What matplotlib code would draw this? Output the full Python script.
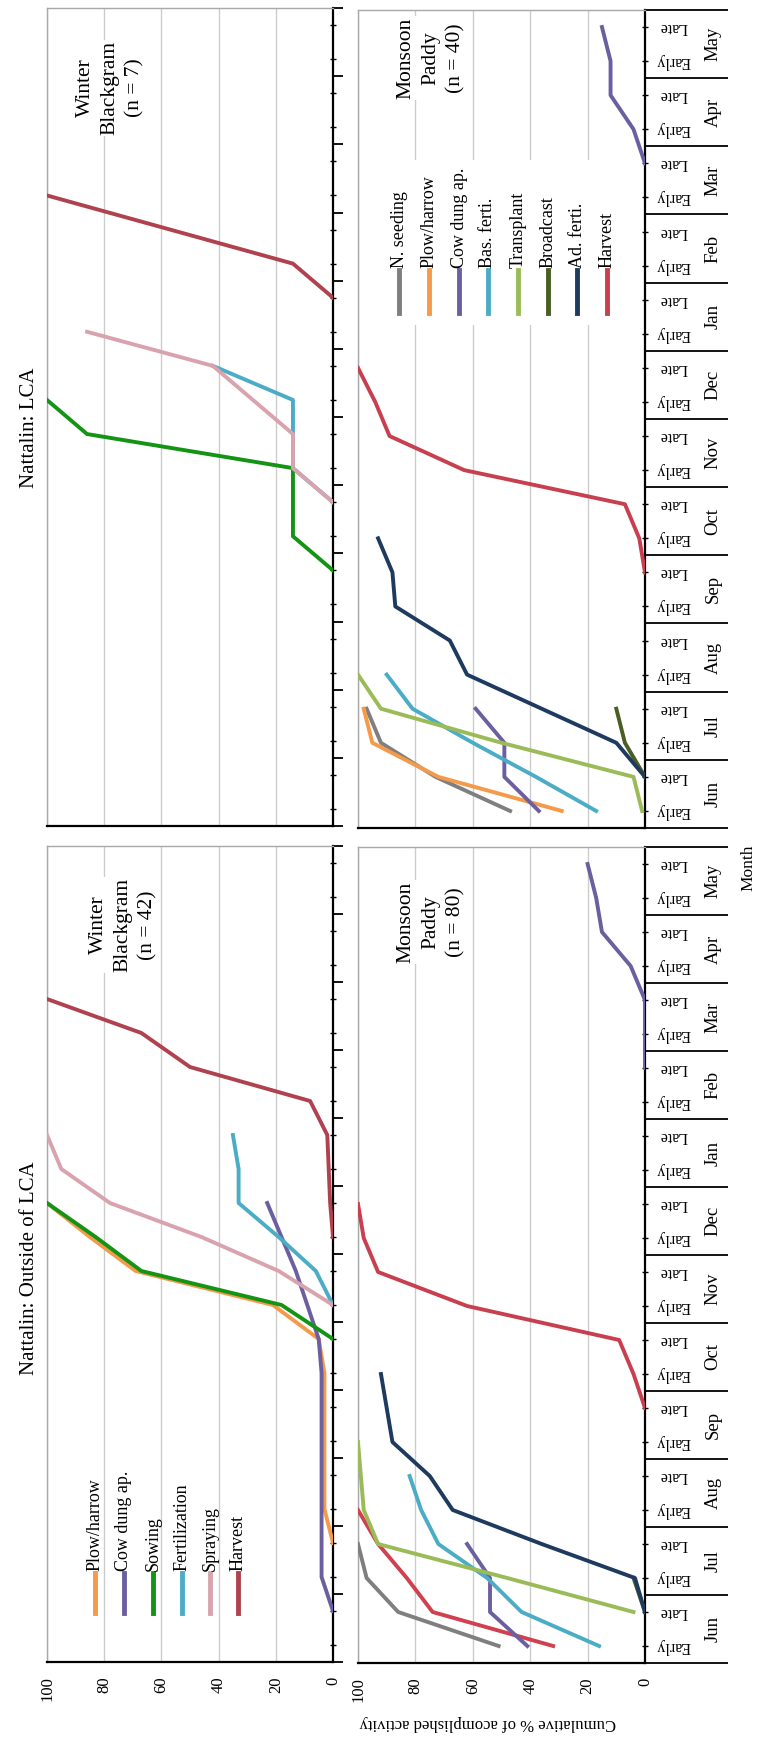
import numpy as np
import matplotlib.pyplot as plt
from matplotlib import transforms
from matplotlib.lines import Line2D
from matplotlib.patches import Rectangle

plt.rcParams['font.family'] = ['Liberation Serif', 'DejaVu Serif']

nan = np.nan

# categories (half-months, Jun -> May)
months = ['Jun', 'Jul', 'Aug', 'Sep', 'Oct', 'Nov', 'Dec', 'Jan', 'Feb', 'Mar', 'Apr', 'May']
halves = ['Early', 'Late']
value_ticks = [0, 20, 40, 60, 80, 100]

# ---- Nattalin: Outside of LCA, Winter Blackgram (n = 42) ----
# (first half-month index, cumulative %)
ob_plow_start, ob_plow = 3, [0, 3, 3, 3, 3, 3, 5, 21, 69, 85, 100]
ob_cow_start, ob_cow = 1, [0, 4, 4, 4, 4, 4, 4, 4, 5, 9, 13, 18, 23]
ob_sow_start, ob_sow = 9, [0, 18, 67, 83, 100]
ob_fert_start, ob_fert = 10, [0, 6, 19, 33, 33, 35]
ob_spray_start, ob_spray = 10, [0, 19, 46, 78, 95, 100]
ob_harv_start, ob_harv = 12, [0, 1, 1.5, 2, 8, 50, 67, 100]

# ---- Nattalin: LCA, Winter Blackgram (n = 7) ----
lb_sow_start, lb_sow = 7, [0, 14, 14, 14, 86, 100]
lb_fert_start, lb_fert = 9, [0, 14, 14, 14, 42]
lb_spray_start, lb_spray = 9, [0, 14, 14, 28, 42, 86]
lb_harv_start, lb_harv = 15, [0, 14, 57, 100]

# ---- Nattalin: Outside of LCA, Monsoon Paddy (n = 80) ----
om_seed_start, om_seed = 0, [51, 86, 97, 100]
om_plow_start, om_plow = 0, [32, 74, 83, 93, 100]
om_cow_start, om_cow = 0, [41, 54, 54, 62, nan, nan, nan, nan, nan, nan, nan, nan, nan,
                           nan, nan, nan, nan, 0, 0, 0, 5, 15, 17, 20]
om_basf_start, om_basf = 0, [16, 43, 55, 72, 78, 82]
om_trans_start, om_trans = 1, [4, 48, 93, 98, 99, 100]
om_broad_start, om_broad = 1, [0, 4]
om_adf_start, om_adf = 1, [0, 3.5, 36, 67, 75, 88, 90, 92]
om_harv_start, om_harv = 7, [0, 4, 9, 62, 93, 98, 100]

# ---- Nattalin: LCA, Monsoon Paddy (n = 40) ----
lm_seed_start, lm_seed = 0, [47, 73, 92, 97]
lm_plow_start, lm_plow = 0, [29, 72, 95, 98]
lm_cow_start, lm_cow = 0, [37, 49, 49, 59, nan, nan, nan, nan, nan, nan, nan, nan, nan,
                           nan, nan, nan, nan, nan, nan, 0, 4, 12, 12, 15]
lm_basf_start, lm_basf = 0, [17, 38, 60, 81, 90]
lm_trans_start, lm_trans = 0, [1, 4, 50, 92, 100]
lm_broad_start, lm_broad = 1, [0, 7, 10]
lm_adf_start, lm_adf = 1, [0, 10, 36, 62, 68, 87, 88, 93]
lm_harv_start, lm_harv = 7, [0, 2, 7, 63, 89, 94, 100]

# colours
c_gray = '#7f7f7f'
c_orange = '#f5994a'
c_purple = '#6c5fa0'
c_green = '#149414'
c_cyan = '#4bacc6'
c_pink = '#d9a3ad'
c_harv_bg = '#b0424f'
c_lgreen = '#9bbb59'
c_dgreen = '#4a5e24'
c_navy = '#1f3a5f'
c_red = '#c8404f'
c_plow_om = '#d0404f'

W, H = 758, 1737
fig = plt.figure(figsize=(W / 100, H / 100), dpi=100)


def fx(px):
    return px / W


def fy(py):
    return 1 - py / H


def make_axes(x0, x1, y0, y1):
    return fig.add_axes([fx(x0), fy(y1), (x1 - x0) / W, (y1 - y0) / H])


def style(ax, right_col, bottom_row):
    ax.set_xlim(100, 0)
    ax.set_ylim(-0.5, 23.5)
    ax.set_xticks(value_ticks)
    ax.grid(axis='x', color='#cccccc', lw=1)
    ax.set_axisbelow(True)
    for s in ['top', 'left']:
        ax.spines[s].set_color('#a8a8a8')
        ax.spines[s].set_linewidth(1)
    for s in ['right', 'bottom']:
        ax.spines[s].set_color('black')
        ax.spines[s].set_linewidth(1.6)
    ax.tick_params(axis='x', length=0, pad=10.5, labelsize=12, labelrotation=90,
                   labelbottom=bottom_row)
    ax.yaxis.tick_right()
    ax.set_yticks(np.arange(-0.5, 24, 2))
    ax.set_yticks(np.arange(24), minor=True)
    ax.tick_params(axis='y', which='major', direction='out', width=1.3,
                   length=60 if right_col else 7, labelright=False, labelleft=False)
    ax.tick_params(axis='y', which='minor', direction='inout', length=5, width=1)
    if right_col:
        blend = transforms.blended_transform_factory(ax.transAxes, ax.transData)
        for i in range(24):
            ax.text(1.098, i, halves[i % 2], rotation=180, ha='center', va='center',
                    fontsize=11.5, transform=blend)
        for m, name in enumerate(months):
            ax.text(1.237, 2 * m + 0.5, name, rotation=90, ha='center', va='center',
                    fontsize=13.5, transform=blend)


def draw(ax, start, vals, color, lw=2.8):
    v = np.array(vals, dtype=float)
    idx = np.arange(start, start + len(v))
    ax.plot(v, idx, color=color, lw=lw, solid_joinstyle='round', zorder=3)


def panel_label(ax, x, y, s):
    ax.text(fx(x), fy(y), s, rotation=90, ha='center', va='center', fontsize=15.5,
            linespacing=1.4, transform=fig.transFigure, zorder=2,
            bbox=dict(facecolor='white', edgecolor='none', pad=1))


def legend(xs, y_top, y_bot, labels, colors):
    for x, lab, col in zip(xs, labels, colors):
        fig.add_artist(Line2D([fx(x), fx(x)], [fy(y_bot), fy(y_top)], color=col, lw=3.5,
                              transform=fig.transFigure))
        fig.text(fx(x), fy(y_top - 2), lab, rotation=90, ha='center', va='bottom', fontsize=13)


ax_lb = make_axes(47, 333, 8, 826)
ax_lm = make_axes(358, 645, 10, 828)
ax_ob = make_axes(47, 333, 846, 1662)
ax_om = make_axes(358, 645, 847, 1663)

style(ax_lb, False, False)
style(ax_lm, True, False)
style(ax_ob, False, True)
style(ax_om, True, True)

# outside LCA - winter blackgram
draw(ax_ob, ob_plow_start, ob_plow, c_orange)
draw(ax_ob, ob_cow_start, ob_cow, c_purple)
draw(ax_ob, ob_sow_start, ob_sow, c_green)
draw(ax_ob, ob_fert_start, ob_fert, c_cyan)
draw(ax_ob, ob_spray_start, ob_spray, c_pink)
draw(ax_ob, ob_harv_start, ob_harv, c_harv_bg)

# LCA - winter blackgram
draw(ax_lb, lb_sow_start, lb_sow, c_green)
draw(ax_lb, lb_fert_start, lb_fert, c_cyan)
draw(ax_lb, lb_spray_start, lb_spray, c_pink)
draw(ax_lb, lb_harv_start, lb_harv, c_harv_bg)

# outside LCA - monsoon paddy
draw(ax_om, om_seed_start, om_seed, c_gray)
draw(ax_om, om_plow_start, om_plow, c_plow_om)
draw(ax_om, om_cow_start, om_cow, c_purple)
draw(ax_om, om_basf_start, om_basf, c_cyan)
draw(ax_om, om_trans_start, om_trans, c_lgreen)
draw(ax_om, om_broad_start, om_broad, c_dgreen)
draw(ax_om, om_adf_start, om_adf, c_navy)
draw(ax_om, om_harv_start, om_harv, c_red)

# LCA - monsoon paddy
draw(ax_lm, lm_seed_start, lm_seed, c_gray)
draw(ax_lm, lm_plow_start, lm_plow, c_orange)
draw(ax_lm, lm_cow_start, lm_cow, c_purple)
draw(ax_lm, lm_basf_start, lm_basf, c_cyan)
draw(ax_lm, lm_trans_start, lm_trans, c_lgreen)
draw(ax_lm, lm_broad_start, lm_broad, c_dgreen)
draw(ax_lm, lm_adf_start, lm_adf, c_navy)
draw(ax_lm, lm_harv_start, lm_harv, c_red)

# panel labels
panel_label(ax_lb, 110, 88, 'Winter\nBlackgram\n(n = 7)')
panel_label(ax_ob, 123, 925, 'Winter\nBlackgram\n(n = 42)')
panel_label(ax_lm, 431, 58, 'Monsoon\nPaddy\n(n = 40)')
panel_label(ax_om, 431, 922, 'Monsoon\nPaddy\n(n = 80)')

# legends
ax_lm.add_patch(Rectangle((fx(384), fy(325)), (624 - 384) / W, (325 - 160) / H,
                          facecolor='white', edgecolor='none', transform=fig.transFigure,
                          zorder=1))
legend([399, 429, 459, 488, 518, 548, 577, 607], 270, 313,
       ['N. seeding', 'Plow/harrow', 'Cow dung ap.', 'Bas. ferti.', 'Transplant',
        'Broadcast', 'Ad. ferti.', 'Harvest'],
       [c_gray, c_orange, c_purple, c_cyan, c_lgreen, c_dgreen, c_navy, c_red])
legend([95, 124, 153, 182, 210, 238], 1573, 1613,
       ['Plow/harrow', 'Cow dung ap.', 'Sowing', 'Fertilization', 'Spraying', 'Harvest'],
       [c_orange, c_purple, c_green, c_cyan, c_pink, c_harv_bg])

# titles and axis labels
fig.text(fx(30), fy(428), 'Nattalin: LCA', rotation=90, ha='center', va='center', fontsize=15)
fig.text(fx(30), fy(1268), 'Nattalin: Outside of LCA', rotation=90, ha='center', va='center',
         fontsize=15)
fig.text(fx(488), fy(1723), 'Cumulative % of acomplished activity', rotation=180,
         ha='center', va='center', fontsize=12)
fig.text(fx(748), fy(868), 'Month', rotation=90, ha='center', va='center', fontsize=12.5)

fig.savefig('out.png', dpi=100)
